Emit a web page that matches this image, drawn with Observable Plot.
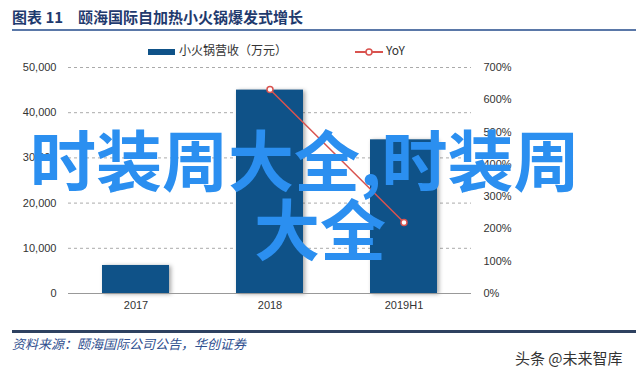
<!DOCTYPE html>
<html><head><meta charset="utf-8">
<script src="https://cdn.jsdelivr.net/npm/d3@7"></script>
<script src="https://cdn.jsdelivr.net/npm/@observablehq/plot@0.6"></script>
<style>
body{margin:0;background:#fff;}
#wrap{position:relative;width:640px;height:370px;overflow:hidden;font-family:"Liberation Sans",Arial,"Noto Sans CJK SC",sans-serif;}
.abs{position:absolute;white-space:nowrap;}
#title{left:12px;top:6px;font:bold 15px "Noto Sans CJK SC",sans-serif;color:#1f3a6e;}
#tline{left:12px;top:29px;width:624px;height:2px;background:#5a78a8;}
#bline{left:12px;top:330px;width:624px;height:3px;background:#2e4160;}
#source{left:12px;top:334px;font:italic 13px "Noto Sans CJK SC",sans-serif;color:#2f4f8f;}
#brand{left:515px;top:347px;font:15px "Noto Sans CJK SC",sans-serif;color:#333;}
.leg{font:12px "Noto Sans CJK SC",sans-serif;color:#333;top:41px;}
#overlay1,#overlay2{font:bold 66px "Noto Sans CJK SC",sans-serif;color:#2b8ff0;line-height:72px;}
svg g[aria-label="bar"] rect{filter:drop-shadow(2px 1px 2px rgba(0,0,0,0.35));}
</style></head>
<body><div id="wrap">
<div id="title" class="abs">图表 11　颐海国际自加热小火锅爆发式增长</div>
<div id="tline" class="abs"></div>
<div id="chart" class="abs" style="left:0;top:0;"></div>
<div class="abs leg" style="left:148px;"><span style="display:inline-block;width:27px;height:6px;background:#0f5288;vertical-align:middle;margin-right:4px;"></span>小火锅营收（万元）</div>
<div class="abs leg" style="left:355px;"><svg width="28" height="10" style="vertical-align:middle;margin-right:3px;"><line x1="0" y1="5" x2="28" y2="5" stroke="#d9534f" stroke-width="2"/><circle cx="14" cy="5" r="3" fill="#fff" stroke="#d9534f" stroke-width="1.5"/></svg>YoY</div>
<div id="bline" class="abs"></div>
<div id="source" class="abs">资料来源：颐海国际公司公告，华创证券</div>
<div id="brand" class="abs">头条 @未来智库</div>
<div id="overlay1" class="abs" style="left:30px;top:121px;">时装周大全,时装周</div>
<div id="overlay2" class="abs" style="left:254px;top:190px;">大全</div>
</div>
<script>
const categories = ["2017", "2018", "2019H1"];
const revenue = [6200, 45000, 34000];
const yoyCategories = ["2018", "2019H1"];
const yoy = [632, 220];
const leftTicks = [0, 10000, 20000, 30000, 40000, 50000];
const rightTicks = [0, 100, 200, 300, 400, 500, 600, 700];

const k = 50000 / 700;
const bars = categories.map((c, i) => ({cat: c, v: revenue[i]}));
const pts = yoyCategories.map((c, i) => ({cat: c, v: yoy[i] * k}));

const plot = Plot.plot({
  width: 640, height: 370,
  marginTop: 67, marginBottom: 77, marginLeft: 68, marginRight: 169,
  style: {fontFamily: '"Liberation Sans",Arial,sans-serif', fontSize: "11px", color: "#333", background: "transparent"},
  x: {domain: categories, paddingInner: 0.5, paddingOuter: 0.25, label: null},
  y: {domain: [0, 50000], label: null},
  marks: [
    Plot.gridY(leftTicks, {stroke: "#aaa", strokeOpacity: 1, strokeDasharray: "3,3"}),
    Plot.barY(bars, {x: "cat", y: "v", fill: "#0f5288"}),
    Plot.ruleY([0], {stroke: "#999", strokeWidth: 1}),
    Plot.line(pts, {x: "cat", y: "v", stroke: "#d9534f", strokeWidth: 1.5}),
    Plot.dot(pts, {x: "cat", y: "v", r: 3, fill: "#fff", stroke: "#d9534f", strokeWidth: 1.5}),
    Plot.axisY(leftTicks, {anchor: "left", tickSize: 0, tickPadding: 12, tickFormat: d3.format(","), label: null}),
    Plot.axisY(rightTicks.map(v => v * k), {anchor: "right", tickSize: 0, tickPadding: 12, tickFormat: d => Math.round(d / k) + "%", label: null}),
    Plot.axisX({tickSize: 0, tickPadding: 8, label: null})
  ]
});
document.getElementById("chart").appendChild(plot);
</script>
</body></html>
